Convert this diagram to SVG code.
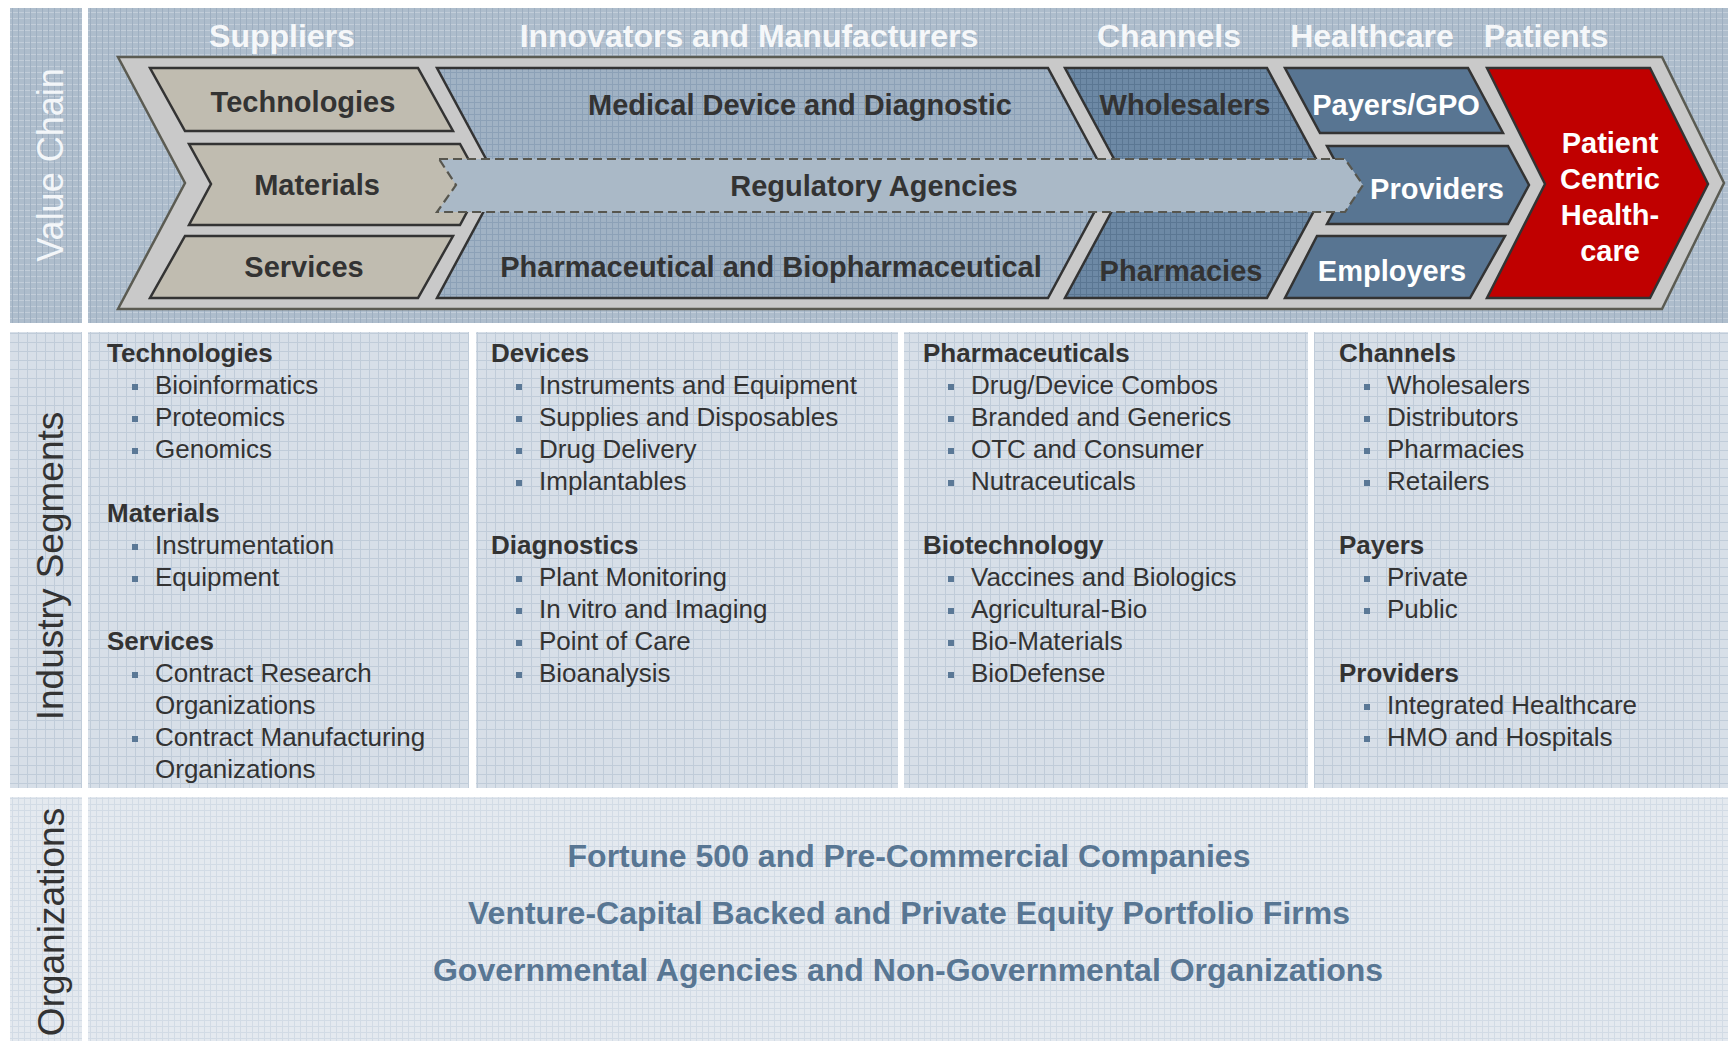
<svg xmlns="http://www.w3.org/2000/svg" width="1728" height="1041" viewBox="0 0 1728 1041">
  <defs>
    <!-- woven textures for the panels and the textured chevrons -->
    <pattern id="texTop" width="6" height="6" patternUnits="userSpaceOnUse">
      <rect width="6" height="6" fill="#aebdcc"/>
      <path d="M0 0.5H6" stroke="#c2cdd9" stroke-width="1"/>
      <path d="M0.5 0V6" stroke="#9eafc1" stroke-width="1"/>
    </pattern>
    <pattern id="texMid" width="9" height="9" patternUnits="userSpaceOnUse">
      <rect width="9" height="9" fill="#d7dfe8"/>
      <path d="M0 0.5H9M0.5 0V9" stroke="#c0ccd9" stroke-width="1"/>
    </pattern>
    <pattern id="texBot" width="6" height="6" patternUnits="userSpaceOnUse">
      <rect width="6" height="6" fill="#e4e9ef"/>
      <path d="M0 0.5H6M0.5 0V6" stroke="#d2dbe5" stroke-width="1"/>
    </pattern>
    <pattern id="texInnov" width="6" height="6" patternUnits="userSpaceOnUse">
      <rect width="6" height="6" fill="#a0b2c4"/>
      <path d="M0 0.5H6M0.5 0V6" stroke="#8ca1b7" stroke-width="1"/>
    </pattern>
    <pattern id="texChan" width="6" height="6" patternUnits="userSpaceOnUse">
      <rect width="6" height="6" fill="#6d89a5"/>
      <path d="M0 0.5H6M0.5 0V6" stroke="#5b7793" stroke-width="1"/>
    </pattern>
  </defs>
  <style>
    text { font-family: "Liberation Sans", Arial, sans-serif; }
    .hdr { font-size: 32px; font-weight: bold; fill: #f5f7f9; text-anchor: middle; }
    .box { stroke: #333333; stroke-width: 2.5; stroke-linejoin: miter; }
    .sup { fill: #c0bcb0; }
    .hc { fill: #587592; }
    .lbl { font-size: 29px; font-weight: bold; fill: #333333; text-anchor: middle; }
    .wht { fill: #ffffff; }
    .side { font-size: 37px; text-anchor: middle; fill: #333333; }
    .seg-h { font-size: 26px; font-weight: bold; fill: #333333; }
    .seg-i { font-size: 26px; fill: #333333; }
    .bul { fill: #5a7896; }
    .org { font-size: 32px; font-weight: bold; fill: #587693; text-anchor: middle; }
  </style>

  <rect width="1728" height="1041" fill="#ffffff"/>

  <!-- row backgrounds -->
  <g id="panels">
    <rect x="10" y="8" width="72" height="315" fill="url(#texTop)"/>
    <rect x="88" y="8" width="1640" height="315" fill="url(#texTop)"/>
    <rect x="10" y="332" width="72" height="456" fill="url(#texMid)"/>
    <rect x="88" y="332" width="381" height="456" fill="url(#texMid)"/>
    <rect x="476" y="332" width="422" height="456" fill="url(#texMid)"/>
    <rect x="904" y="332" width="404" height="456" fill="url(#texMid)"/>
    <rect x="1314" y="332" width="414" height="456" fill="url(#texMid)"/>
    <rect x="10" y="797" width="72" height="244" fill="url(#texBot)"/>
    <rect x="88" y="797" width="1640" height="244" fill="url(#texBot)"/>
  </g>

  <!-- row titles -->
  <g id="row-titles">
    <text class="side" style="font-size:36px;fill:#f3f6f9" transform="translate(63,165) rotate(-90)">Value Chain</text>
    <text class="side" transform="translate(63,566) rotate(-90)">Industry Segments</text>
    <text class="side" transform="translate(64,922) rotate(-90)">Organizations</text>
  </g>

  <!-- stage headings -->
  <g id="stage-headings">
    <text class="hdr" x="282" y="47">Suppliers</text>
    <text class="hdr" x="749" y="47">Innovators and Manufacturers</text>
    <text class="hdr" x="1169" y="47">Channels</text>
    <text class="hdr" x="1372" y="47">Healthcare</text>
    <text class="hdr" x="1546" y="47">Patients</text>
  </g>

  <!-- value chain arrow -->
  <g id="value-chain-frame">
    <polygon points="118,57 1662,57 1724,183 1662,309 118,309 185,183" fill="#c9c9c9" stroke="#5b5b52" stroke-width="2.5"/>
  </g>

  <g id="node-technologies">
    <polygon class="box sup" points="150,68 418,68 453,131 185,131"/>
    <text class="lbl" x="303" y="112">Technologies</text>
  </g>
  <g id="node-materials">
    <polygon class="box sup" points="189,144 460,144 482,184 460,225 189,225 211,184"/>
    <text class="lbl" x="317" y="195">Materials</text>
  </g>
  <g id="node-services">
    <polygon class="box sup" points="185,236 453,236 418,298 150,298"/>
    <text class="lbl" x="304" y="277">Services</text>
  </g>

  <g id="node-innovators">
    <polygon class="box" fill="url(#texInnov)" points="437,68 1048,68 1110,183 1048,298 437,298 499,183"/>
    <text class="lbl" x="800" y="115">Medical Device and Diagnostic</text>
    <text class="lbl" x="771" y="277">Pharmaceutical and Biopharmaceutical</text>
  </g>

  <g id="node-channels">
    <polygon class="box" fill="url(#texChan)" points="1065,68 1267,68 1329,183 1267,298 1065,298 1127,183"/>
    <text class="lbl" x="1185" y="115">Wholesalers</text>
    <text class="lbl" x="1181" y="281">Pharmacies</text>
  </g>

  <g id="node-payers">
    <polygon class="box hc" points="1285,68 1468,68 1503,133 1320,133"/>
    <text class="lbl wht" x="1396" y="115">Payers/GPO</text>
  </g>
  <g id="node-providers">
    <polygon class="box hc" points="1327,146 1508,146 1529,185 1508,224 1327,224 1348,185"/>
    <text class="lbl wht" x="1437" y="199">Providers</text>
  </g>
  <g id="node-employers">
    <polygon class="box hc" points="1317,236 1505,236 1470,298 1285,298"/>
    <text class="lbl wht" x="1392" y="281">Employers</text>
  </g>

  <g id="node-patients">
    <polygon class="box" fill="#c00000" points="1487,68 1650,68 1708,184 1650,298 1487,298 1545,184"/>
    <text class="lbl wht" x="1610" y="153">Patient</text>
    <text class="lbl wht" x="1610" y="189">Centric</text>
    <text class="lbl wht" x="1610" y="225">Health-</text>
    <text class="lbl wht" x="1610" y="261">care</text>
  </g>

  <g id="node-regulatory">
    <polygon points="439,159 1345,159 1363,185 1345,212 437,212 456,185" fill="#aab9c7" stroke="#57564e" stroke-width="2.2" stroke-dasharray="9 5"/>
    <text class="lbl" x="874" y="196">Regulatory Agencies</text>
  </g>

  <!-- industry segments -->
  <g id="segments-suppliers">
    <text class="seg-h" x="107" y="362">Technologies</text>
    <rect class="bul" x="132" y="384" width="6" height="6"/><text class="seg-i" x="155" y="394">Bioinformatics</text>
    <rect class="bul" x="132" y="416" width="6" height="6"/><text class="seg-i" x="155" y="426">Proteomics</text>
    <rect class="bul" x="132" y="448" width="6" height="6"/><text class="seg-i" x="155" y="458">Genomics</text>
    <text class="seg-h" x="107" y="522">Materials</text>
    <rect class="bul" x="132" y="544" width="6" height="6"/><text class="seg-i" x="155" y="554">Instrumentation</text>
    <rect class="bul" x="132" y="576" width="6" height="6"/><text class="seg-i" x="155" y="586">Equipment</text>
    <text class="seg-h" x="107" y="650">Services</text>
    <rect class="bul" x="132" y="672" width="6" height="6"/><text class="seg-i" x="155" y="682">Contract Research</text>
    <text class="seg-i" x="155" y="714">Organizations</text>
    <rect class="bul" x="132" y="736" width="6" height="6"/><text class="seg-i" x="155" y="746">Contract Manufacturing</text>
    <text class="seg-i" x="155" y="778">Organizations</text>
  </g>

  <g id="segments-innovators">
    <text class="seg-h" x="491" y="362">Devices</text>
    <rect class="bul" x="516" y="384" width="6" height="6"/><text class="seg-i" x="539" y="394">Instruments and Equipment</text>
    <rect class="bul" x="516" y="416" width="6" height="6"/><text class="seg-i" x="539" y="426">Supplies and Disposables</text>
    <rect class="bul" x="516" y="448" width="6" height="6"/><text class="seg-i" x="539" y="458">Drug Delivery</text>
    <rect class="bul" x="516" y="480" width="6" height="6"/><text class="seg-i" x="539" y="490">Implantables</text>
    <text class="seg-h" x="491" y="554">Diagnostics</text>
    <rect class="bul" x="516" y="576" width="6" height="6"/><text class="seg-i" x="539" y="586">Plant Monitoring</text>
    <rect class="bul" x="516" y="608" width="6" height="6"/><text class="seg-i" x="539" y="618">In vitro and Imaging</text>
    <rect class="bul" x="516" y="640" width="6" height="6"/><text class="seg-i" x="539" y="650">Point of Care</text>
    <rect class="bul" x="516" y="672" width="6" height="6"/><text class="seg-i" x="539" y="682">Bioanalysis</text>
  </g>

  <g id="segments-pharma">
    <text class="seg-h" x="923" y="362">Pharmaceuticals</text>
    <rect class="bul" x="948" y="384" width="6" height="6"/><text class="seg-i" x="971" y="394">Drug/Device Combos</text>
    <rect class="bul" x="948" y="416" width="6" height="6"/><text class="seg-i" x="971" y="426">Branded and Generics</text>
    <rect class="bul" x="948" y="448" width="6" height="6"/><text class="seg-i" x="971" y="458">OTC and Consumer</text>
    <rect class="bul" x="948" y="480" width="6" height="6"/><text class="seg-i" x="971" y="490">Nutraceuticals</text>
    <text class="seg-h" x="923" y="554">Biotechnology</text>
    <rect class="bul" x="948" y="576" width="6" height="6"/><text class="seg-i" x="971" y="586">Vaccines and Biologics</text>
    <rect class="bul" x="948" y="608" width="6" height="6"/><text class="seg-i" x="971" y="618">Agricultural-Bio</text>
    <rect class="bul" x="948" y="640" width="6" height="6"/><text class="seg-i" x="971" y="650">Bio-Materials</text>
    <rect class="bul" x="948" y="672" width="6" height="6"/><text class="seg-i" x="971" y="682">BioDefense</text>
  </g>

  <g id="segments-channels">
    <text class="seg-h" x="1339" y="362">Channels</text>
    <rect class="bul" x="1364" y="384" width="6" height="6"/><text class="seg-i" x="1387" y="394">Wholesalers</text>
    <rect class="bul" x="1364" y="416" width="6" height="6"/><text class="seg-i" x="1387" y="426">Distributors</text>
    <rect class="bul" x="1364" y="448" width="6" height="6"/><text class="seg-i" x="1387" y="458">Pharmacies</text>
    <rect class="bul" x="1364" y="480" width="6" height="6"/><text class="seg-i" x="1387" y="490">Retailers</text>
    <text class="seg-h" x="1339" y="554">Payers</text>
    <rect class="bul" x="1364" y="576" width="6" height="6"/><text class="seg-i" x="1387" y="586">Private</text>
    <rect class="bul" x="1364" y="608" width="6" height="6"/><text class="seg-i" x="1387" y="618">Public</text>
    <text class="seg-h" x="1339" y="682">Providers</text>
    <rect class="bul" x="1364" y="704" width="6" height="6"/><text class="seg-i" x="1387" y="714">Integrated Healthcare</text>
    <rect class="bul" x="1364" y="736" width="6" height="6"/><text class="seg-i" x="1387" y="746">HMO and Hospitals</text>
  </g>

  <!-- organization types -->
  <g id="organizations">
    <text class="org" x="909" y="867">Fortune 500 and Pre-Commercial Companies</text>
    <text class="org" x="909" y="924">Venture-Capital Backed and Private Equity Portfolio Firms</text>
    <text class="org" x="908" y="981">Governmental Agencies and Non-Governmental Organizations</text>
  </g>
</svg>
